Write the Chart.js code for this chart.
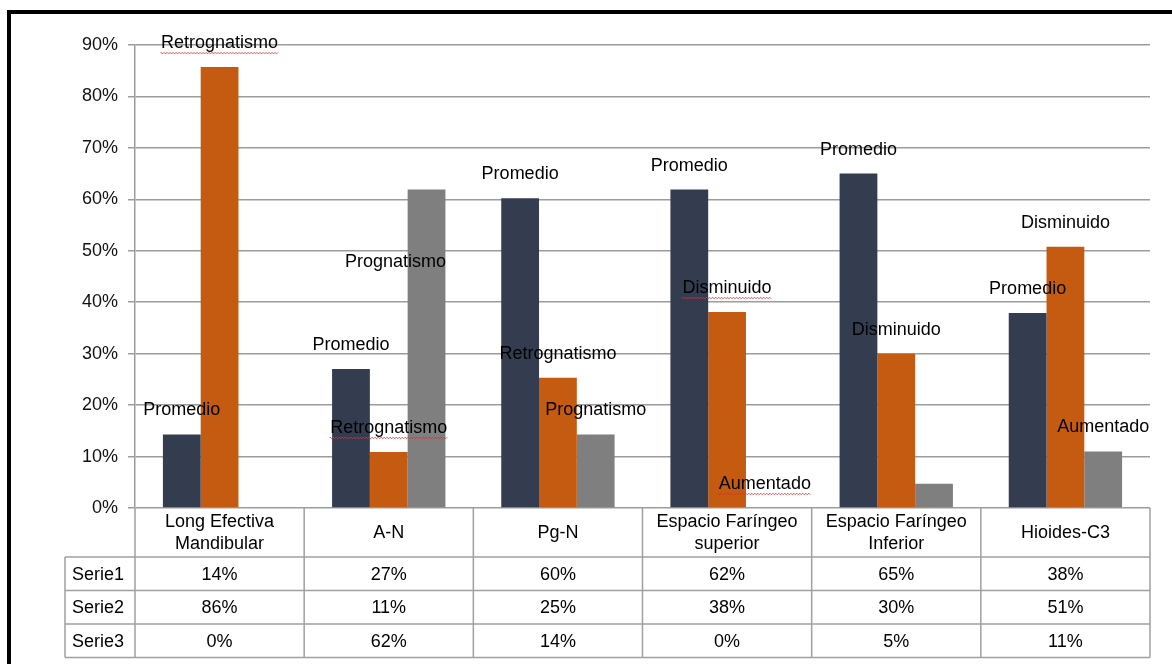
<!DOCTYPE html>
<html>
<head>
<meta charset="utf-8">
<script src="https://cdn.jsdelivr.net/npm/chart.js@4.4.1/dist/chart.umd.min.js"></script>
<style>
html,body{margin:0;padding:0;background:#fff;}
#wrap{position:relative;width:1172px;height:664px;}
</style>
</head>
<body>
<div id="wrap"><canvas id="c" width="1172" height="664"></canvas></div>
<script>
// ---- data ----
const categories = [["Long Efectiva","Mandibular"],["A-N"],["Pg-N"],["Espacio Faríngeo","superior"],["Espacio Faríngeo","Inferior"],["Hioides-C3"]];
const seriesNames = ["Serie1","Serie2","Serie3"];
const serie1 = [14.3, 27.0, 60.2, 61.9, 65.0, 37.9];
const serie2 = [85.7, 10.9, 25.3, 38.1, 30.0, 50.8];
const serie3 = [0, 61.9, 14.3, 0, 4.7, 11.0];
const serie1Labels = ["Promedio","Promedio","Promedio","Promedio","Promedio","Promedio"];
const serie2Labels = ["Retrognatismo","Retrognatismo","Retrognatismo","Disminuido","Disminuido","Disminuido"];
const serie3Labels = ["","Prognatismo","Prognatismo","Aumentado","","Aumentado"];
const yTicks = [0,10,20,30,40,50,60,70,80,90];

// label placement tweaks (pixels): [dx, dy] relative to default (centred, above bar top)
const labelShift = [
  [[0,1],[0,1],[0,1],[0,1],[0,1],[0,1]],
  [[0,1],[0,1],[0,1],[0,1],[0,1],[0,1]],
  [[0,1],[-31,97],[0,1],[0,1],[0,1],[0,1]]
];
// spell-check squiggles shown under some labels
const squiggle = [
  [false,false,false,false,false,false],
  [true,true,false,true,false,false],
  [false,false,false,true,false,false]
];

const colors = ["#333D4F","#C55A11","#7F7F7F"];
const FONT = "'Liberation Sans', Arial, sans-serif";
const FSIZE = 18;
const allLabels = [serie1Labels, serie2Labels, serie3Labels];
const allValues = [serie1, serie2, serie3];

const framePlugin = {
  id: 'frame',
  afterDraw(chart){
    const ctx = chart.ctx;
    const ca = chart.chartArea;
    // data labels
    ctx.save();
    ctx.font = FSIZE + "px " + FONT;
    ctx.textAlign = 'center';
    ctx.textBaseline = 'middle';
    for (let d=0; d<3; d++){
      const meta = chart.getDatasetMeta(d);
      meta.data.forEach((bar, i)=>{
        const txt = allLabels[d][i];
        if(!txt) return;
        const x = bar.x + labelShift[d][i][0];
        const y = bar.y - 25 + labelShift[d][i][1];
        ctx.fillStyle = '#000';
        ctx.fillText(txt, x, y);
        if (squiggle[d][i]){
          const w = ctx.measureText(txt).width;
          ctx.strokeStyle = '#E03030';
          ctx.lineWidth = 0.8;
          ctx.beginPath();
          let sx = x - w/2, yy = y + 10;
          ctx.moveTo(sx, yy);
          let up = true;
          for (let px = sx; px <= x + w/2; px += 1.5){
            ctx.lineTo(px, yy + (up ? -0.8 : 0.8));
            up = !up;
          }
          ctx.stroke();
        }
      });
    }
    // data table
    const n = categories.length;
    const cw = (ca.right - ca.left)/n;
    const top = ca.bottom;
    const hdrBottom = top + 49;
    const rowH = 33.5;
    const tblBottom = hdrBottom + rowH*3;
    const leftCol = 65;
    ctx.strokeStyle = '#A0A0A0';
    ctx.lineWidth = 1.5;
    ctx.beginPath();
    for (let i=0;i<=n;i++){
      const x = ca.left + cw*i;
      ctx.moveTo(x, top); ctx.lineTo(x, tblBottom);
    }
    ctx.moveTo(leftCol, hdrBottom); ctx.lineTo(leftCol, tblBottom);
    for (let r=0;r<=3;r++){
      const y = hdrBottom + rowH*r;
      ctx.moveTo(leftCol, y); ctx.lineTo(ca.right, y);
    }
    ctx.stroke();
    ctx.fillStyle = '#000';
    ctx.textAlign = 'center';
    categories.forEach((lines, i)=>{
      const cx = ca.left + cw*(i+0.5);
      const mid = (top + hdrBottom)/2 + 1;
      if (lines.length === 1){
        ctx.fillText(lines[0], cx, mid);
      } else {
        ctx.fillText(lines[0], cx, mid - 11);
        ctx.fillText(lines[1], cx, mid + 11);
      }
    });
    for (let r=0;r<3;r++){
      const cy = hdrBottom + rowH*(r+0.5) + 1;
      ctx.textAlign = 'left';
      ctx.fillText(seriesNames[r], leftCol + 7, cy);
      ctx.textAlign = 'center';
      allValues[r].forEach((v,i)=>{
        ctx.fillText(Math.round(v) + '%', ca.left + cw*(i+0.5), cy);
      });
    }
    // black frame
    ctx.fillStyle = '#000';
    ctx.fillRect(7, 10, 1165, 4);
    ctx.fillRect(7, 10, 4, 654);
    ctx.restore();
  }
};

new Chart(document.getElementById('c'), {
  type: 'bar',
  data: {
    labels: categories.map(c=>c.join(' ')),
    datasets: seriesNames.map((name, d)=>({
      label: name,
      data: allValues[d],
      backgroundColor: colors[d],
      borderWidth: 0
    }))
  },
  options: {
    responsive: false,
    animation: false,
    devicePixelRatio: 1,
    layout: { padding: { left: 0, right: 22, top: 45, bottom: 0 } },
    plugins: { legend: { display: false }, tooltip: { enabled: false } },
    datasets: { bar: { categoryPercentage: 0.67, barPercentage: 1.0 } },
    scales: {
      x: {
        grid: { display: false },
        border: { display: false },
        ticks: { display: false },
        afterFit(scale){ scale.height = 156; }
      },
      y: {
        min: 0, max: 90,
        afterBuildTicks(scale){ scale.ticks = yTicks.map(v=>({value:v})); },
        grid: { color: '#9C9C9C', lineWidth: 1.5, tickLength: 7 },
        border: { color: '#9C9C9C', width: 1.5 },
        ticks: {
          color: '#111',
          padding: 10,
          font: { family: FONT, size: FSIZE },
          callback: v => v + '%'
        },
        afterFit(scale){ scale.width = 135; }
      }
    }
  },
  plugins: [framePlugin]
});
</script>
</body>
</html>
